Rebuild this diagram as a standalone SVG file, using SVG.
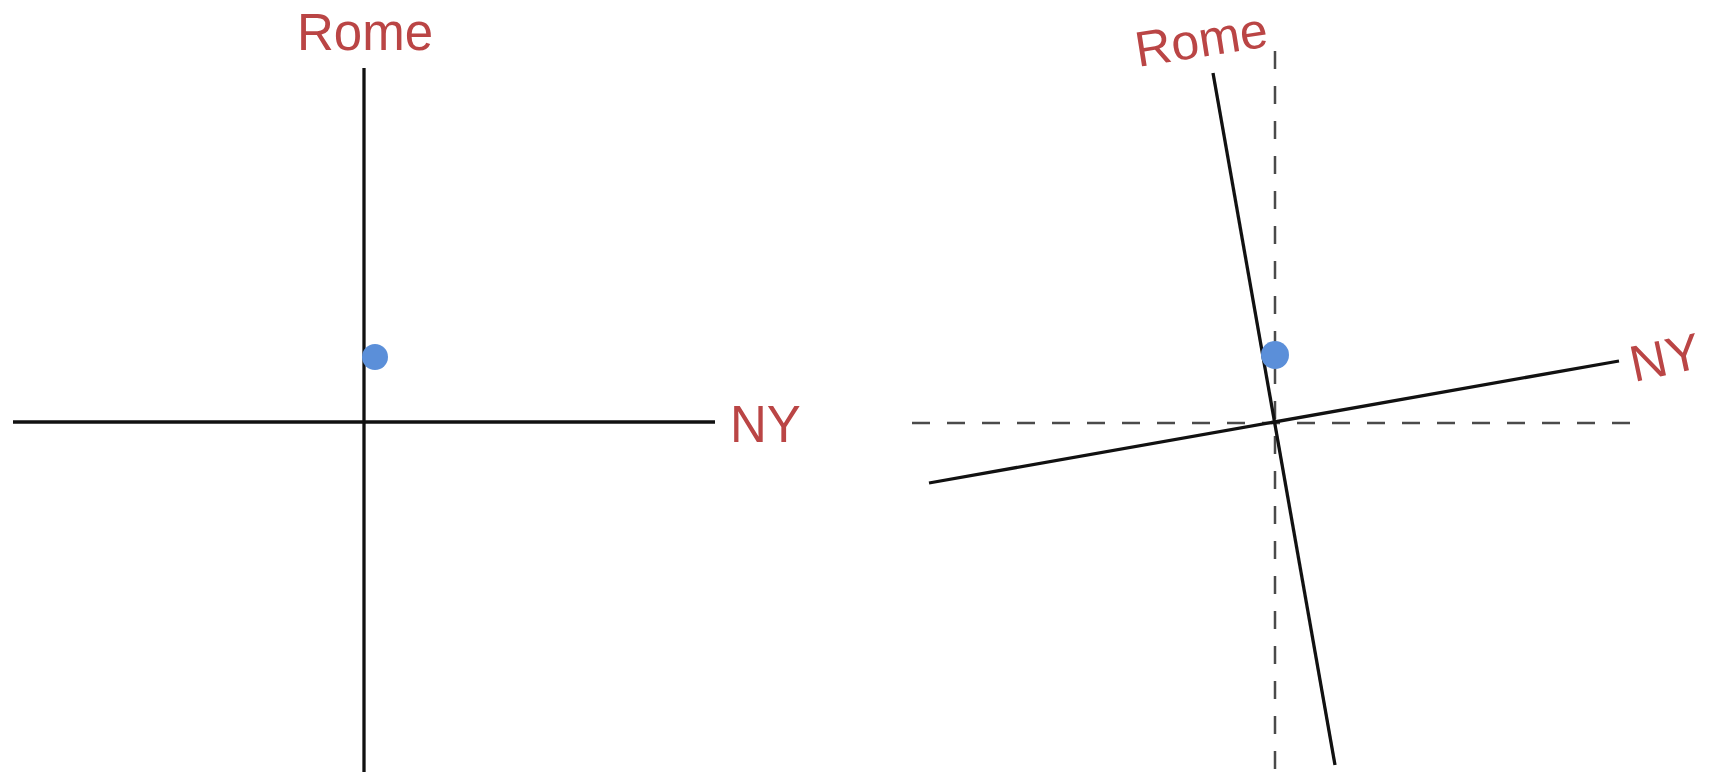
<svg xmlns="http://www.w3.org/2000/svg" width="1713" height="775" viewBox="0 0 1713 775">
<style>
.axis{stroke:#111;stroke-width:3.3;fill:none;stroke-linecap:butt}
.dash{stroke:#4a4a4a;stroke-width:2.5;fill:none;stroke-dasharray:18 17}
.lbl{font-family:"Liberation Sans",Arial,sans-serif;font-size:51px;fill:#BA4545}
.dot{fill:#5B8FD9}
</style>
<rect width="1713" height="775" fill="#fff"/>
<g id="connectors">
<line class="axis" x1="364" y1="68" x2="364" y2="772"/>
<line class="axis" x1="13" y1="422" x2="715" y2="422"/>
<line class="dash" x1="912" y1="423" x2="1632" y2="423"/>
<line class="dash" x1="1275" y1="51" x2="1275" y2="775"/>
<line class="axis" x1="1213" y1="73" x2="1335" y2="765"/>
<line class="axis" x1="929" y1="483" x2="1619" y2="361"/>
</g>
<g id="left-rome"><text class="lbl" x="297" y="50">Rome</text></g>
<g id="left-ny"><text class="lbl" x="730" y="442">NY</text></g>
<g id="left-point"><circle class="dot" cx="375" cy="357" r="13"/></g>
<g id="right-rome"><text class="lbl" style="font-size:50px" transform="translate(1138,67) rotate(-9)">Rome</text></g>
<g id="right-ny"><text class="lbl" transform="translate(1634,382) rotate(-12)">NY</text></g>
<g id="right-point"><circle class="dot" cx="1275" cy="355" r="14"/></g>
</svg>
